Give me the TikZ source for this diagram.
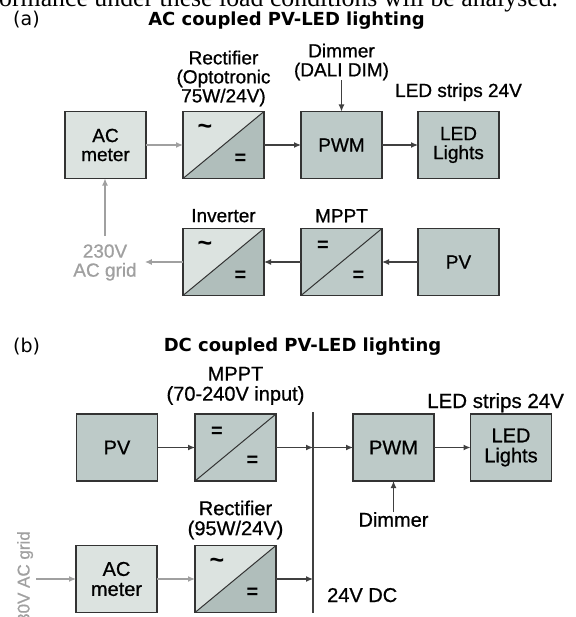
\documentclass[tikz,border=0pt]{standalone}
\usepackage{fontspec}
\setmainfont{Liberation Serif}
\setsansfont{Liberation Sans}
\newfontfamily\lblface{Liberation Sans}[FakeBold=0.8]
\newfontfamily\headfont{DejaVu Sans}
\usetikzlibrary{positioning, arrows.meta, calc}
\definecolor{PaleFill}{HTML}{DCE3E0}
\definecolor{MidFill} {HTML}{BDCAC8}
\definecolor{HalfDk}  {HTML}{B0BEBB}
\definecolor{Edge}    {HTML}{333333}
\definecolor{Wire}    {HTML}{404040}
\definecolor{GridGry} {HTML}{A0A0A0}
\newcommand\lblfont{\lblface\fontsize{19bp}{19bp}\selectfont}
\newcommand\lblfontb{\lblface\fontsize{20bp}{20bp}\selectfont}
\newcommand\symfont{\sffamily\bfseries\fontsize{20bp}{20bp}\selectfont}
\newcommand\ttlfont{\headfont\bfseries\fontsize{18bp}{18bp}\selectfont}
\newcommand\tagfont{\headfont\fontsize{19bp}{19bp}\selectfont}
\newcommand\acsym{{\fontsize{25bp}{25bp}\selectfont\textasciitilde}}

\begin{document}
\begin{tikzpicture}[
  x=1bp, y=-1bp, >={Latex[length=7bp, width=6bp]},
  box/.style   = {draw=Edge, line width=1.2bp, minimum width=81bp,
                  minimum height=67bp, inner sep=0pt, outer sep=0pt,
                  align=center, font=\lblfont},
  meter/.style = {box, fill=PaleFill},
  unit/.style  = {box, fill=MidFill},
  conv/.style n args={3}{box, fill=PaleFill, path picture={
      \fill[#3] (path picture bounding box.south west)
        -- (path picture bounding box.north east) |- cycle;
      \draw[Edge, line width=1bp] (path picture bounding box.south west)
        -- (path picture bounding box.north east);
      \node[font=\symfont, inner sep=0pt] at ($(path picture bounding box.north west)!0.27!(path picture bounding box.south east)$) {#1};
      \node[font=\symfont, inner sep=0pt] at ($(path picture bounding box.north west)!0.71!(path picture bounding box.south east)$) {#2};
  }},
  lbl/.style   = {font=\lblfont, align=center, inner sep=0pt},
  lblb/.style  = {lbl, font=\lblfontb},
  feed/.style  = {->, Wire, line width=1.2bp},
  acfeed/.style= {->, GridGry, line width=1.2bp},
]
\useasboundingbox (0,0) rectangle (576,617);

% -- page text cut off at the top ------------------------------------------
\node[anchor=base west, inner sep=0pt, font=\fontsize{25.8bp}{26bp}\selectfont]
  (prose) at (-1,7) {ormance under these load conditions will be analysed.};

% == (a) AC coupled =========================================================
\node[anchor=base west, inner sep=0pt, font=\tagfont] (tag_a) at (13,26) {(a)};
\node[anchor=base, inner sep=0pt, font=\ttlfont] (title_a) at (286.5,26)
  {AC coupled PV-LED lighting};

\node[meter] (acm_a)  at (105.5,145) {AC\\meter};
\node[conv={\acsym}{=}{HalfDk}] (rect_a) at (223.5,145) {};
\node[unit]  (pwm_a)  at (341.5,145) {PWM};
\node[unit]  (led_a)  at (458.5,145) {LED\\Lights};

\node[conv={\acsym}{=}{HalfDk}] (inv)    at (223.5,262) {};
\node[conv={=}{=}{MidFill}, fill=MidFill] (mppt_a) at (341.5,262) {};
\node[unit]  (pv_a)   at (458.5,262) {PV};

\node[lbl, above=5bp of rect_a] (rlbl_a) {Rectifier\\(Optotronic\\75W/24V)};
\node[lbl, above=31bp of pwm_a] (dim_a) {Dimmer\\(DALI DIM)};
\node[lbl, anchor=base] (strip_a) at (458.5,97) {LED strips 24V};
\node[lbl, above=6bp of inv]    (ilbl) {Inverter};
\node[lbl, above=6bp of mppt_a] (mlbl_a) {MPPT};
\node[lbl, text=GridGry, inner sep=8bp] (grid_a) at (105,262.5) {230V\\AC grid};

\draw[acfeed] (acm_a) -- (rect_a);
\draw[feed]   (rect_a) -- (pwm_a);
\draw[feed]   (pwm_a) -- (led_a);
\draw[feed]   (dim_a) -- (pwm_a);
\draw[feed]   (pv_a) -- (mppt_a);
\draw[feed]   (mppt_a) -- (inv);
\draw[acfeed] (inv) -- (inv -| grid_a.east);
\draw[acfeed] (grid_a.north) -- (grid_a.north |- acm_a.south);

% == (b) DC coupled =========================================================
\node[anchor=base west, inner sep=0pt, font=\tagfont] (tag_b) at (13,352) {(b)};
\node[anchor=base, inner sep=0pt, font=\ttlfont] (title_b) at (302.5,351)
  {DC coupled PV-LED lighting};

\node[unit, font=\lblfontb]  (pv_b)   at (117,447.5)   {PV};
\node[conv={=}{=}{MidFill}, fill=MidFill] (mppt_b) at (235.5,447.5) {};
\node[unit, font=\lblfontb]  (pwm_b)  at (393.5,447.5) {PWM};
\node[unit, font=\lblfontb]  (led_b)  at (511,447.5)   {LED\\Lights};
\node[meter, font=\lblfontb] (acm_b)  at (116.5,579)   {AC\\meter};
\node[conv={\acsym}{=}{HalfDk}] (rect_b) at (235.5,579) {};

\coordinate (bus_t) at (313,412);
\coordinate (bus_b) at (313,613);
\draw[Wire, line width=1.6bp] (bus_t) -- (bus_b);

\node[lblb, above=9bp of mppt_b] (mlbl_b) {MPPT\\(70-240V input)};
\node[lblb, above=6bp of rect_b] (rlbl_b) {Rectifier\\(95W/24V)};
\node[lblb, anchor=base west, font=\lblface\fontsize{20.5bp}{20.5bp}\selectfont]
  (strip_b) at (427,408) {LED strips 24V};
\node[lblb, below=31bp of pwm_b] (dim_b) {Dimmer};
\node[lblb, anchor=base west] (dc) at (327,602) {24V DC};
\node[lbl, text=GridGry, rotate=90, anchor=base east, inner sep=1bp,
      font=\lblface\fontsize{17bp}{17bp}\selectfont]
  (grid_b) at (29.5,530) {230V AC grid};

\draw[feed]   (pv_b) -- (mppt_b);
\draw[feed]   (mppt_b) -- (mppt_b -| bus_t);
\draw[feed]   (pwm_b -| bus_t) -- (pwm_b);
\draw[feed]   (pwm_b) -- (led_b);
\draw[feed]   (dim_b) -- (pwm_b);
\draw[feed]   (rect_b) -- (rect_b -| bus_t);
\draw[acfeed] (acm_b) -- (rect_b);
\draw[acfeed] ([xshift=2bp]acm_b.west -| grid_b.south) -- (acm_b.west);

\end{tikzpicture}
\end{document}
